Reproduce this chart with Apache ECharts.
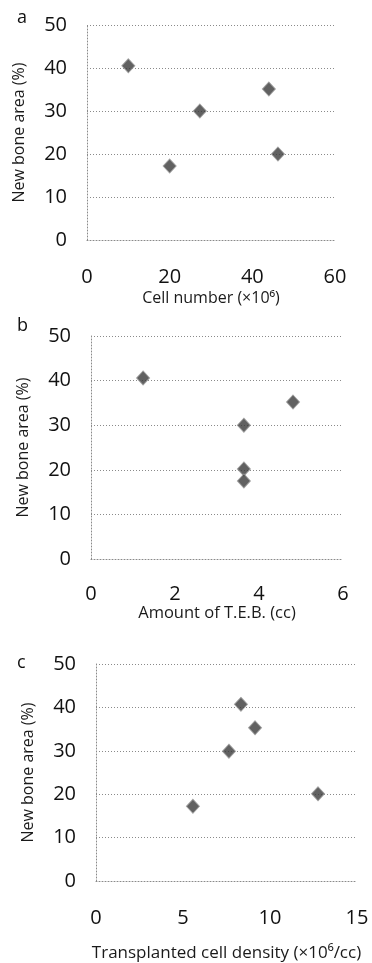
<!DOCTYPE html>
<html>
<head>
<meta charset="utf-8">
<script src="https://cdn.jsdelivr.net/npm/echarts@6/dist/echarts.min.js"></script>
<style>
  html, body { margin: 0; padding: 0; background: #fff; }
  #chart { width: 372px; height: 963px; }
</style>
</head>
<body>
<div id="chart"></div>
<script>
  // panel a: cell number (x10^6) vs new bone area (%)
  var cellNumber = [10, 20, 27.3, 44, 46.2];
  var boneA = [40.5, 17.2, 30.0, 35.1, 20.0];
  // panel b: amount of T.E.B. (cc)
  var tebAmount = [1.24, 3.64, 3.64, 3.64, 4.81];
  var boneB = [40.6, 30.0, 20.2, 17.5, 35.2];
  // panel c: transplanted cell density (x10^6/cc)
  var cellDensity = [8.33, 9.14, 7.64, 12.76, 5.57];
  var boneC = [40.7, 35.3, 29.9, 20.1, 17.2];

  var panelLetters = ['a', 'b', 'c'];
  var xNames = ['Cell number (×10⁶)', 'Amount of T.E.B. (cc)', 'Transplanted cell density (×10⁶/cc)'];
  var xMax = [60, 6, 15];
  var xStep = [20, 2, 5];
  var yName = 'New bone area (%)';

  var font = '"Open Sans", Lato, sans-serif';
  var dotted = { color: '#8a8a8a', type: [1, 2], width: 1 };

  function pairs(xs, ys) {
    return xs.map(function (x, i) { return [x, ys[i]]; });
  }
  var seriesData = [pairs(cellNumber, boneA), pairs(tebAmount, boneB), pairs(cellDensity, boneC)];

  var grids = [
    { left: 87, right: 37, top: 25, height: 215 },
    { left: 91, right: 29, top: 336, height: 223 },
    { left: 96, right: 15, top: 664, height: 221 }
  ];
  var nameGaps = [50, 46, 64];
  var nameSizes = [16, 16.5, 17];
  var labelMargins = [27, 25, 27];

  var chart = echarts.init(document.getElementById('chart'));
  chart.setOption({
    animation: false,
    backgroundColor: '#fff',
    textStyle: { fontFamily: font },
    title: panelLetters.map(function (t, i) {
      return {
        text: t,
        left: 12,
        top: [4, 312, 649][i],
        textStyle: { fontFamily: font, fontSize: 18, fontWeight: 'normal', color: '#111' }
      };
    }),
    grid: grids,
    xAxis: grids.map(function (g, i) {
      return {
        type: 'value',
        gridIndex: i,
        min: 0,
        max: xMax[i],
        interval: xStep[i],
        name: xNames[i],
        nameLocation: 'middle',
        nameGap: nameGaps[i],
        nameTextStyle: { fontFamily: font, fontSize: nameSizes[i], color: '#1a1a1a' },
        axisLine: { show: true, lineStyle: dotted },
        axisTick: { show: false },
        splitLine: { show: false },
        axisLabel: { margin: labelMargins[i], fontFamily: font, fontSize: 20, color: '#111' }
      };
    }),
    yAxis: grids.map(function (g, i) {
      return {
        type: 'value',
        gridIndex: i,
        min: 0,
        max: 50,
        interval: 10,
        name: yName,
        nameLocation: 'middle',
        nameGap: 60,
        nameTextStyle: { fontFamily: font, fontSize: 16, color: '#1a1a1a' },
        axisLine: { show: true, lineStyle: dotted },
        axisTick: { show: false },
        splitLine: { show: true, lineStyle: dotted },
        axisLabel: { margin: 20, fontFamily: font, fontSize: 20, color: '#111' }
      };
    }),
    series: seriesData.map(function (d, i) {
      return {
        type: 'scatter',
        xAxisIndex: i,
        yAxisIndex: i,
        data: d,
        symbol: 'diamond',
        symbolSize: [13, 14],
        itemStyle: { color: '#3a3a3a', borderColor: '#999', borderWidth: 1 }
      };
    })
  });
</script>
</body>
</html>
